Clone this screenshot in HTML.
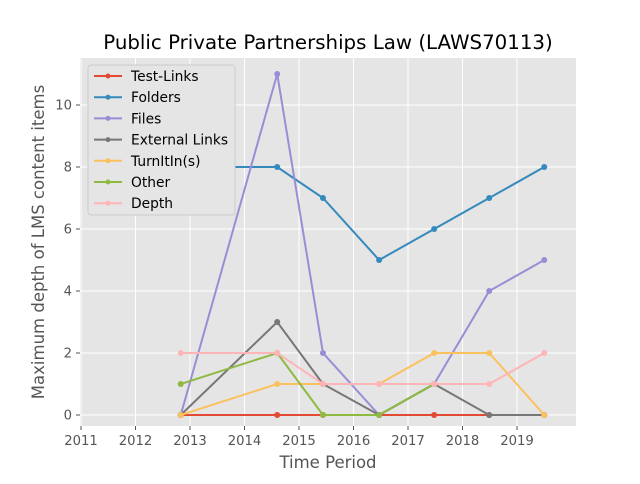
<!DOCTYPE html>
<html><head><meta charset="utf-8"><style>
body{margin:0;background:#fff;font-family:"DejaVu Sans","Liberation Sans",sans-serif}
svg text{font-family:"DejaVu Sans","Liberation Sans",sans-serif}
</style></head><body>
<svg id="chart" width="640" height="480" xmlns="http://www.w3.org/2000/svg">
<rect width="640" height="480" fill="#fff"/>
<rect x="80" y="58" width="496" height="368" fill="#e5e5e5"/>
<g id="grid"></g>
<g id="ticks"></g>
<g id="series"></g>
<text x="328" y="49" text-anchor="middle" font-size="19.8" fill="#000">Public Private Partnerships Law (LAWS70113)</text>
<text x="328" y="468" text-anchor="middle" font-size="16.5" fill="#555">Time Period</text>
<text transform="translate(44,242) rotate(-90)" text-anchor="middle" font-size="16.5" fill="#555">Maximum depth of LMS content items</text>
<g id="legend"></g>
</svg>
<script>
const xDates = [2012.83, 2014.6, 2015.44, 2016.47, 2017.48, 2018.49, 2019.5];
const seriesNames = ["Test-Links","Folders","Files","External Links","TurnItIn(s)","Other","Depth"];
const testLinks = [0,0,0,0,0,0,0];
const folders = [8,8,7,5,6,7,8];
const files = [0,11,2,0,1,4,5];
const externalLinks = [0,3,1,0,1,0,0];
const turnitins = [0,1,1,1,2,2,0];
const other = [1,2,0,0,1];
const depth = [2,2,1,1,1,1,2];
const xTicks = [2011,2012,2013,2014,2015,2016,2017,2018,2019];
const yTicks = [0,2,4,6,8,10];
const colors = ["#E24A33","#348ABD","#988ED5","#777777","#FBC15E","#8EBA42","#FFB5B8"];
const allSeries = [testLinks,folders,files,externalLinks,turnitins,other,depth];
const NS="http://www.w3.org/2000/svg";
function xs(v){return 81+(v-2011)*54.5;}
function ys(v){return 415-v*31;}
function mk(tag,attrs,parent){const e=document.createElementNS(NS,tag);for(const k in attrs)e.setAttribute(k,attrs[k]);parent.appendChild(e);return e;}
const grid=document.getElementById('grid'),ticks=document.getElementById('ticks'),ser=document.getElementById('series'),leg=document.getElementById('legend');
xTicks.forEach(t=>{
  const l=mk('line',{x1:xs(t),x2:xs(t),y1:58,y2:426,stroke:'#fff','stroke-width':1},grid);
  
  
  const tk=mk('line',{x1:xs(t),x2:xs(t),y1:426,y2:430,stroke:'#555'},ticks);
  
  
  const tx=mk('text',{x:xs(t),y:445,'text-anchor':'middle','font-size':13.2,fill:'#555'},ticks);
  tx.textContent=t;
  
  
});
yTicks.forEach(t=>{
  const l=mk('line',{x1:80,x2:576,y1:ys(t),y2:ys(t),stroke:'#fff','stroke-width':1},grid);
  
  
  const tk=mk('line',{x1:76,x2:80,y1:ys(t),y2:ys(t),stroke:'#555'},ticks);
  
  
  const tx=mk('text',{x:72,y:ys(t)+4.5,'text-anchor':'end','font-size':13.2,fill:'#555'},ticks);
  tx.textContent=t;
  
  
});
allSeries.forEach((s,i)=>{
  const g=mk('g',{},ser);
  
  
  const pts=s.map((v,j)=>xs(xDates[j])+','+ys(v)).join(' ');
  mk('polyline',{points:pts,fill:'none',stroke:colors[i],'stroke-width':2},g);
  s.forEach((v,j)=>{
    const c=mk('circle',{cx:xs(xDates[j]),cy:ys(v),r:3,fill:colors[i]},g);
    
    
  });
});
const lb=mk('rect',{x:88,y:65,width:147,height:150,fill:'#e5e5e5',stroke:'#ccc',rx:3},leg);


seriesNames.forEach((n,i)=>{
  const y=76+i*21.2;
  const g=mk('g',{},leg);
  
  
  mk('line',{x1:94,x2:122,y1:y,y2:y,stroke:colors[i],'stroke-width':2},g);
  mk('circle',{cx:108,cy:y,r:2.5,fill:colors[i]},g);
  const t=mk('text',{x:131,y:y+5,'font-size':13.8,fill:'#000'},g);
  t.textContent=n;
});
</script>
</body></html>
